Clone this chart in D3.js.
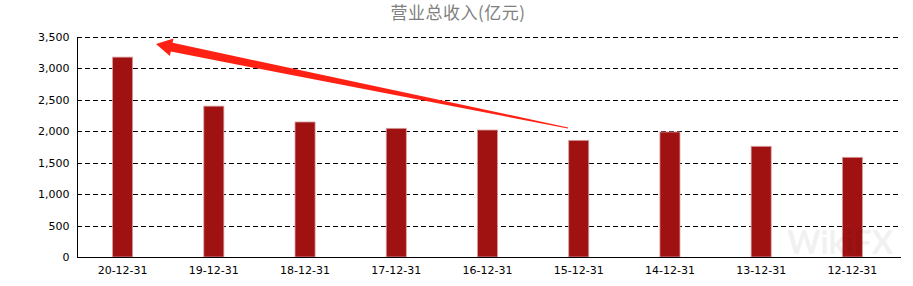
<!DOCTYPE html>
<html>
<head>
<meta charset="utf-8">
<script src="https://cdn.jsdelivr.net/npm/d3@7"></script>
<style>
  body { margin: 0; background: #fff; }
  svg text { font-family: "DejaVu Sans", sans-serif; }
</style>
</head>
<body>
<svg id="chart" width="913" height="286"></svg>
<script>
"use strict"
// data
var periods = ["20-12-31","19-12-31","18-12-31","17-12-31","16-12-31","15-12-31","14-12-31","13-12-31","12-12-31"];
var revenue = [3180, 2400, 2148, 2047, 2020, 1856, 1989, 1761, 1586];
var yTicks = [0, 500, 1000, 1500, 2000, 2500, 3000, 3500];
var titleText = "营业总收入(亿元)";

var svg = d3.select("svg#chart"),
    width = +svg.attr("width"),
    height = +svg.attr("height");

var margin = {top: 37, right: 15, bottom: 29, left: 77};
var plotW = 898 - margin.left, plotH = 257 - margin.top;

var x = d3.scaleBand().domain(periods).range([margin.left, margin.left + plotW]).paddingInner(0.78).paddingOuter(0.39);
var y = d3.scaleLinear().domain([0, 3500]).range([margin.top + plotH, margin.top]);

// title
svg.append("text")
    .attr("x", 458).attr("y", 19)
    .attr("text-anchor", "middle")
    .style("font-family", "'Noto Sans CJK SC', sans-serif")
    .style("font-size", "17px")
    .style("letter-spacing", "0.5px")
    .style("fill", "#808080")
    .text(titleText);

// grid lines
svg.append("g").selectAll("line")
    .data(yTicks.filter(function(d){ return d > 0; }))
  .enter().append("line")
    .attr("x1", margin.left).attr("x2", margin.left + plotW)
    .attr("y1", function(d){ return Math.round(y(d)) + 0.5; })
    .attr("y2", function(d){ return Math.round(y(d)) + 0.5; })
    .style("stroke", "#000")
    .style("stroke-dasharray", "5,3");

// y axis
var yAxis = svg.append("g")
    .attr("transform", "translate(" + (margin.left + 0.5) + ",0)")
    .call(d3.axisLeft(y).tickValues(yTicks).tickSize(0).tickPadding(8).tickFormat(d3.format(",")));
yAxis.select(".domain").attr("d", "M0," + y(3500) + "V" + y(0)).style("stroke", "#000");
yAxis.selectAll("text").style("font-size", "11px").style("fill", "#000");

// bars
svg.append("g").selectAll("rect")
    .data(revenue)
  .enter().append("rect")
    .attr("x", function(d, i){ return x(periods[i]); })
    .attr("y", function(d){ return y(d); })
    .attr("width", x.bandwidth())
    .attr("height", function(d){ return y(0) - y(d); })
    .style("fill", "#a01212")
    .style("stroke", "#d9a0a0")
    .style("stroke-width", 0.8);

// watermark
svg.append("text")
    .attr("x", 840).attr("y", 254)
    .attr("text-anchor", "middle")
    .style("font-family", "Lato, sans-serif")
    .style("font-weight", "bold")
    .style("font-size", "32px")
    .style("fill", "#000")
    .style("opacity", 0.05)
    .text("WikiFX");

// x axis
var xAxis = svg.append("g")
    .attr("transform", "translate(0," + (y(0) + 0.5) + ")")
    .call(d3.axisBottom(x).tickSize(0).tickPadding(9));
xAxis.select(".domain").attr("d", "M" + margin.left + ",0H901").style("stroke", "#000");
xAxis.selectAll("text").style("font-size", "11px").style("fill", "#000");

// arrow annotation (from 15-12-31 back to the top)
var tail = [568, 128], tip = [156, 44];
var ang = Math.atan2(tip[1] - tail[1], tip[0] - tail[0]);
var nx = -Math.sin(ang), ny = Math.cos(ang);
var headLen = 16, shaftW = 4.5, headW = 9;
var base = [tip[0] - headLen * Math.cos(ang), tip[1] - headLen * Math.sin(ang)];
var pts = [
  [tail[0] + nx * 0.6, tail[1] + ny * 0.6],
  [base[0] + nx * shaftW, base[1] + ny * shaftW],
  [base[0] + nx * headW, base[1] + ny * headW],
  tip,
  [base[0] - nx * headW, base[1] - ny * headW],
  [base[0] - nx * shaftW, base[1] - ny * shaftW],
  [tail[0] - nx * 0.6, tail[1] - ny * 0.6]
];
svg.append("path")
    .attr("d", d3.line()(pts) + "Z")
    .style("fill", "#ff2214");
</script>
</body>
</html>
